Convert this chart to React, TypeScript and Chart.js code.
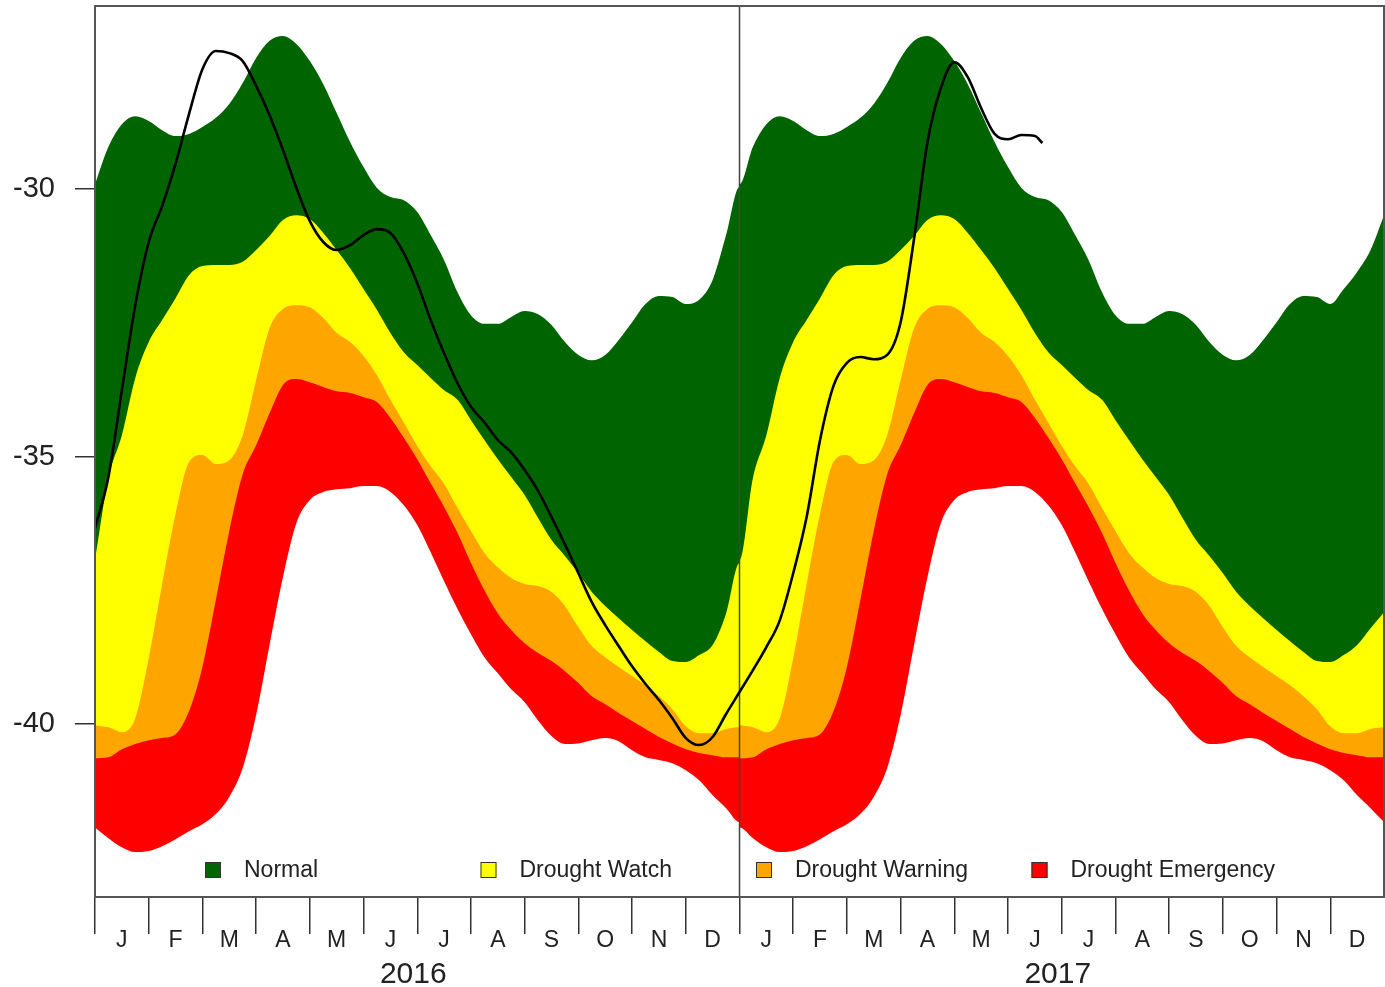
import React, { useEffect, useRef } from 'react';
import { Chart, registerables } from 'chart.js';

Chart.register(...registerables);

const MONTH_LABELS = ['J', 'F', 'M', 'A', 'M', 'J', 'J', 'A', 'S', 'O', 'N', 'D'];
const YEARS = ['2016', '2017'];
const Y_TICKS = [-40, -35, -30];
const LEGEND_LABELS = ['Normal', 'Drought Watch', 'Drought Warning', 'Drought Emergency'];
const BAND_COLORS = ['#006400', '#FFFF00', '#FFA500', '#FF0000'];

// annual sampling positions (months from 1 Jan), quarter-month steps
const STEP_POS = Array.from({ length: 49 }, (_, k) => k / 4);

// thresholds (m), one annual cycle
const NORMAL_TOP = [-29.91, -29.21, -28.79, -28.64, -28.73, -28.90, -29.01, -28.97, -28.84, -28.67, -28.41, -28.02, -27.55, -27.23, -27.14, -27.29, -27.61, -28.04, -28.58, -29.12, -29.59, -29.98, -30.15, -30.21, -30.43, -30.86, -31.33, -31.93, -32.36, -32.52, -32.52, -32.39, -32.28, -32.34, -32.54, -32.86, -33.10, -33.20, -33.10, -32.82, -32.49, -32.15, -32.00, -32.02, -32.15, -32.07, -31.70, -30.86, -29.96];
const WATCH_TOP = [-36.93, -35.40, -34.60, -33.53, -32.86, -32.45, -32.04, -31.61, -31.44, -31.42, -31.42, -31.36, -31.14, -30.88, -30.58, -30.49, -30.56, -30.82, -31.14, -31.48, -31.87, -32.26, -32.69, -33.05, -33.29, -33.53, -33.76, -33.94, -34.32, -34.69, -35.05, -35.38, -35.72, -36.15, -36.56, -36.86, -37.18, -37.53, -37.79, -38.02, -38.24, -38.45, -38.65, -38.82, -38.84, -38.71, -38.52, -37.93, -36.99];
const WARNING_TOP = [-40.02, -40.06, -40.15, -39.89, -38.77, -37.38, -36.07, -35.10, -34.97, -35.14, -35.07, -34.60, -33.57, -32.60, -32.24, -32.17, -32.21, -32.41, -32.69, -32.86, -33.12, -33.48, -33.94, -34.37, -34.80, -35.18, -35.51, -35.96, -36.39, -36.80, -37.07, -37.27, -37.38, -37.42, -37.53, -37.79, -38.19, -38.54, -38.75, -38.93, -39.10, -39.27, -39.48, -39.72, -40.04, -40.17, -40.17, -40.09, -40.06];
const EMERGENCY_TOP = [-40.64, -40.62, -40.47, -40.37, -40.30, -40.26, -40.19, -39.76, -38.93, -37.68, -36.39, -35.33, -34.79, -34.19, -33.66, -33.55, -33.61, -33.70, -33.78, -33.81, -33.89, -33.98, -34.28, -34.65, -35.05, -35.50, -35.94, -36.43, -36.99, -37.50, -37.93, -38.24, -38.49, -38.67, -38.82, -39.01, -39.23, -39.48, -39.63, -39.79, -39.94, -40.09, -40.24, -40.36, -40.47, -40.54, -40.58, -40.62, -40.62];
const EMERGENCY_BOTTOM = [-41.93, -42.13, -42.30, -42.39, -42.37, -42.28, -42.15, -42.00, -41.87, -41.68, -41.36, -40.82, -39.83, -38.52, -37.25, -36.24, -35.81, -35.66, -35.61, -35.59, -35.55, -35.55, -35.66, -35.91, -36.28, -36.79, -37.33, -37.85, -38.32, -38.75, -39.05, -39.35, -39.59, -39.93, -40.22, -40.37, -40.36, -40.30, -40.26, -40.32, -40.49, -40.62, -40.67, -40.73, -40.86, -41.05, -41.33, -41.57, -41.83];

// late-December 2017 values that differ from 2016
const NORMAL_TOP_2017_END = [-31.87, -31.55, -31.14, -30.49]; // steps 45..48
const WATCH_TOP_2017_END = [-38.21, -37.91]; // steps 47..48

// observed level (black line)
const LEVEL_2016 = [-36.34, -35.38, -33.76, -32.17, -30.99, -30.32, -29.53, -28.60, -27.76, -27.42, -27.46, -27.61, -28.07, -28.62, -29.27, -29.98, -30.60, -30.99, -31.14, -31.05, -30.86, -30.75, -30.82, -31.20, -31.76, -32.45, -33.07, -33.63, -34.07, -34.36, -34.69, -34.92, -35.25, -35.64, -36.13, -36.64, -37.18, -37.72, -38.15, -38.54, -38.92, -39.25, -39.55, -39.89, -40.26, -40.39, -40.24, -39.81, -39.40];
const LEVEL_2017 = [-38.99, -38.56, -38.06, -37.18, -36.13, -34.69, -33.68, -33.25, -33.14, -33.18, -33.10, -32.49, -30.93, -29.12, -28.11, -27.63, -27.91, -28.49, -28.97, -29.07, -28.99, -29.01]; // steps 1..22 of 2017
const LEVEL_LAST_POS = 17.64;
const LEVEL_LAST = -29.14;

const FONT = '"Liberation Sans", Arial, Helvetica, sans-serif';

function twoYears(annual: number[], end2017?: number[]) {
  const pts: { x: number; y: number }[] = [];
  STEP_POS.forEach((m, k) => pts.push({ x: m, y: annual[k] }));
  const start = end2017 ? STEP_POS.length - end2017.length : STEP_POS.length;
  STEP_POS.forEach((m, k) => {
    const v = end2017 && k >= start ? end2017[k - start] : annual[k];
    pts.push({ x: 12 + m, y: v });
  });
  return pts;
}

export default function App() {
  const ref = useRef<HTMLCanvasElement | null>(null);

  useEffect(() => {
    document.body.style.margin = '0';
    document.body.style.overflow = 'hidden';
    const canvas = ref.current;
    if (!canvas) return;

    const levelPts = [
      ...LEVEL_2016.map((v, k) => ({ x: STEP_POS[k], y: v })),
      ...LEVEL_2017.map((v, k) => ({ x: 12 + STEP_POS[k + 1], y: v })),
      { x: LEVEL_LAST_POS, y: LEVEL_LAST },
    ];

    const band = (data: { x: number; y: number }[], color: string) => ({
      data,
      borderWidth: 0,
      borderColor: color,
      backgroundColor: color,
      pointRadius: 0,
      cubicInterpolationMode: 'monotone',
      fill: 'start',
    });

    const xTicks: number[] = [];
    for (let i = 0; i <= 48; i++) xTicks.push(i / 2);

    const decorations = {
      id: 'decorations',
      afterDatasetDraw(chart: any, args: any) {
        if (args.index !== 1) return;
        const { ctx, chartArea } = chart;
        const x = chart.scales.x.getPixelForValue(12);
        ctx.save();
        ctx.strokeStyle = '#444';
        ctx.lineWidth = 1.5;
        ctx.beginPath();
        ctx.moveTo(x, chartArea.top);
        ctx.lineTo(x, chartArea.bottom);
        ctx.stroke();
        ctx.restore();
      },
      afterDraw(chart: any) {
        const { ctx, chartArea } = chart;
        ctx.save();
        // frame
        ctx.strokeStyle = '#555';
        ctx.lineWidth = 2;
        ctx.strokeRect(chartArea.left, chartArea.top, chartArea.right - chartArea.left, chartArea.bottom - chartArea.top);
        // legend
        ctx.font = '23px ' + FONT;
        ctx.textBaseline = 'middle';
        ctx.textAlign = 'left';
        const ly = chartArea.bottom - 27;
        LEGEND_LABELS.forEach((t, i) => {
          const bx = chartArea.left + 110 + i * 275.5;
          ctx.fillStyle = BAND_COLORS[i];
          ctx.fillRect(bx, ly - 8, 16, 16);
          ctx.strokeStyle = '#333';
          ctx.lineWidth = 1;
          ctx.strokeRect(bx + 0.5, ly - 7.5, 15, 15);
          ctx.fillStyle = '#222';
          ctx.fillText(t, bx + 39, ly + 1);
        });
        // years
        ctx.font = '30px ' + FONT;
        ctx.textAlign = 'center';
        ctx.textBaseline = 'alphabetic';
        ctx.fillStyle = '#222';
        YEARS.forEach((t, i) => {
          const x = chart.scales.x.getPixelForValue(6 + 12 * i) - 4;
          ctx.fillText(t, x, chart.height - 4);
        });
        ctx.restore();
      },
    };

    const chart = new Chart(canvas, {
      type: 'line',
      data: {
        datasets: [
          {
            label: 'Level',
            data: levelPts,
            borderColor: '#000',
            borderWidth: 2.6,
            pointRadius: 0,
            fill: false,
            cubicInterpolationMode: 'monotone',
          } as any,
          band(twoYears(EMERGENCY_BOTTOM), '#FFFFFF'),
          band(twoYears(EMERGENCY_TOP), BAND_COLORS[3]),
          band(twoYears(WARNING_TOP), BAND_COLORS[2]),
          band(twoYears(WATCH_TOP, WATCH_TOP_2017_END), BAND_COLORS[1]),
          band(twoYears(NORMAL_TOP, NORMAL_TOP_2017_END), BAND_COLORS[0]),
        ],
      },
      options: {
        responsive: false,
        devicePixelRatio: 1,
        animation: false,
        layout: { padding: { top: 6, right: 1, left: 0, bottom: 0 } },
        plugins: {
          legend: { display: false },
          tooltip: { enabled: false },
        },
        scales: {
          x: {
            type: 'linear',
            min: 0,
            max: 24,
            afterBuildTicks: (s: any) => {
              s.ticks = xTicks.map((v) => ({ value: v }));
            },
            afterFit: (s: any) => {
              s.height = 90;
              s.paddingLeft = 0;
              s.paddingRight = 0;
            },
            border: { display: false },
            grid: {
              drawOnChartArea: false,
              drawTicks: true,
              tickLength: 37,
              lineWidth: 1.5,
              color: (c: any) => {
                const v = c.tick ? c.tick.value : 0;
                return Number.isInteger(v) && v < 24 ? '#333' : 'rgba(0,0,0,0)';
              },
            },
            ticks: {
              autoSkip: false,
              maxRotation: 0,
              padding: -7,
              color: '#222',
              font: { size: 23, family: FONT },
              callback: (v: any) => {
                const n = Number(v);
                if (Number.isInteger(n)) return '';
                return MONTH_LABELS[Math.floor(n) % 12];
              },
            },
          },
          y: {
            type: 'linear',
            min: -43.23,
            max: -26.58,
            afterBuildTicks: (s: any) => {
              s.ticks = Y_TICKS.map((v) => ({ value: v }));
            },
            afterFit: (s: any) => {
              s.width = 95;
              s.paddingTop = 0;
              s.paddingBottom = 0;
            },
            border: { display: false },
            grid: {
              drawOnChartArea: false,
              tickLength: 20,
              lineWidth: 1.5,
              color: '#333',
            },
            ticks: {
              padding: 20,
              color: '#222',
              font: { size: 29, family: FONT },
              callback: (v: any) => String(v),
            },
          },
        },
      },
      plugins: [decorations],
    } as any);

    return () => chart.destroy();
  }, []);

  return (
    <div style={{ width: 1385, height: 987 }}>
      <canvas ref={ref} width={1385} height={987} style={{ display: 'block' }} />
    </div>
  );
}
